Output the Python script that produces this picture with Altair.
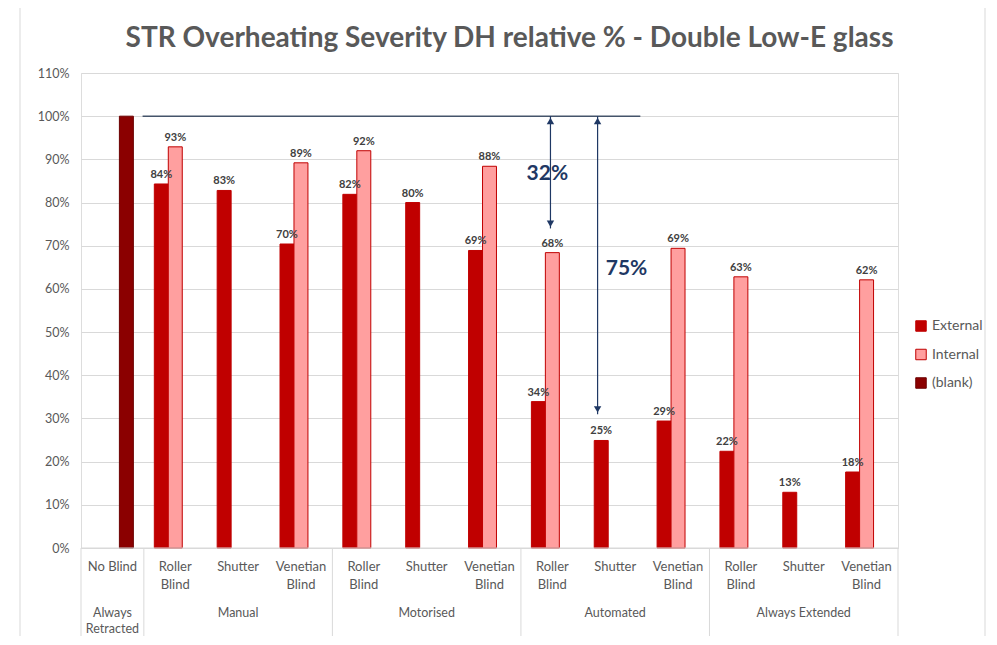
import altair as alt
import pandas as pd

FONT = "Lato"
GREY = "#595959"

slot_ids = [str(i) for i in range(13)]
sub_labels = ["No Blind", "Roller\nBlind", "Shutter", "Venetian\nBlind",
              "Roller\nBlind", "Shutter", "Venetian\nBlind",
              "Roller\nBlind", "Shutter", "Venetian\nBlind",
              "Roller\nBlind", "Shutter", "Venetian\nBlind"]
groups = ["Always\nRetracted", "Manual", "Motorised", "Automated", "Always Extended"]
group_start = [0, 1, 4, 7, 10]
group_end = [1, 4, 7, 10, 13]
series = ["External", "Internal", "(blank)"]

external = [None, 84.3, 82.8, 70.4, 81.9, 80.0, 68.9, 33.9, 24.9, 29.4, 22.4, 12.9, 17.6]
internal = [None, 92.9, None, 89.2, 92.0, None, 88.4, 68.4, None, 69.4, 62.8, None, 62.1]
blank = [100.0] + [None] * 12

# annotations (slot units on x, % on y)
hline_x = [0.98, 8.9]
hline_y = 100
arrow_x = [7.47, 8.22]
arrow_top = [100, 100]
arrow_bot = [74, 31]
note_text = ["32%", "75%"]
note_x = [7.42, 8.68]
note_y = [86.5, 64.5]

rows = []
for i, s in enumerate(slot_ids):
    for name, arr in zip(series, [external, internal, blank]):
        if arr[i] is not None:
            rows.append({"slot": s, "series": name, "value": arr[i],
                         "label": f"{round(arr[i])}%"})
bars_df = pd.DataFrame(rows)

W, H = 817, 475

xband = alt.X("slot:N", scale=alt.Scale(domain=slot_ids, paddingInner=0, paddingOuter=0), axis=None)
xoff = alt.XOffset("series:N", scale=alt.Scale(domain=series, paddingInner=0, paddingOuter=0.75))
yq = alt.Y("value:Q", scale=alt.Scale(domain=[0, 110], nice=False),
           axis=alt.Axis(values=list(range(0, 111, 10)), labelExpr="datum.value + '%'",
                         title=None, domain=False, ticks=False, grid=True, gridColor="#D9D9D9",
                         labelFont=FONT, labelFontSize=12.5, labelColor=GREY, labelPadding=12))

leg = alt.Legend(title=None, orient="none", legendX=833, legendY=246, symbolType="square",
                 symbolSize=110, labelFontSize=14, labelFont=FONT, labelColor=GREY,
                 rowPadding=12.5, symbolStrokeWidth=1)

frame = alt.Chart(pd.DataFrame({"k": [0]})).mark_rect(filled=False, stroke="#D9D9D9", strokeWidth=1).encode(
    x=alt.value(-61), x2=alt.value(W + 87), y=alt.value(-66), y2=alt.value(H + 100))

bars = alt.Chart(bars_df).mark_bar(strokeWidth=1).encode(
    x=xband, xOffset=xoff, y=yq,
    color=alt.Color("series:N", scale=alt.Scale(domain=series, range=["#C00000", "#FF9F9F", "#8B0000"]), legend=leg),
    stroke=alt.Stroke("series:N", scale=alt.Scale(domain=series, range=["#C00000", "#C00000", "#6B0000"]), legend=leg),
)

labels = alt.Chart(bars_df).transform_filter("datum.series != '(blank)'").mark_text(
    dy=-9, font=FONT, fontSize=11, fontWeight="bold", color="#404040"
).encode(x=xband, xOffset=xoff, y=alt.Y("value:Q"), text="label:N")

xq = lambda f: alt.X(f, scale=alt.Scale(domain=[0, 13], nice=False, zero=False), axis=None)

sub_df = pd.DataFrame({"x": [i + 0.5 for i in range(13)], "t": sub_labels})
sub_text = alt.Chart(sub_df).mark_text(baseline="top", lineBreak="\n", lineHeight=18, font=FONT,
                                       fontSize=13, color=GREY).encode(
    x=xq("x:Q"), y=alt.value(488), text="t:N")

grp_df = pd.DataFrame({"x": [(a + b) / 2 for a, b in zip(group_start, group_end)], "t": groups})
grp_text = alt.Chart(grp_df).mark_text(baseline="top", lineBreak="\n", lineHeight=16, font=FONT,
                                       fontSize=12.5, color=GREY).encode(
    x=xq("x:Q"), y=alt.value(534), text="t:N")

div_df = pd.DataFrame({"x": group_start + [13]})
dividers = alt.Chart(div_df).mark_rule(color="#D9D9D9", strokeWidth=1).encode(
    x=xq("x:Q"), y=alt.value(H), y2=alt.value(H + 100))

base_df = pd.DataFrame({"x": [0], "x2": [13]})
baseline = alt.Chart(base_df).mark_rule(color="#D9D9D9", strokeWidth=1).encode(
    x=xq("x:Q"), x2="x2:Q", y=alt.value(H))

hl_df = pd.DataFrame({"x": [hline_x[0]], "x2": [hline_x[1]], "y": [hline_y]})
hline = alt.Chart(hl_df).mark_rule(color="#44546A", strokeWidth=1.5).encode(
    x=xq("x:Q"), x2="x2:Q", y=alt.Y("y:Q"))

ar_df = pd.DataFrame({"x": arrow_x, "top": arrow_top, "bot": arrow_bot})
arrows = alt.Chart(ar_df).mark_rule(color="#1F3864", strokeWidth=1.2).encode(
    x=xq("x:Q"), y=alt.Y("top:Q"), y2="bot:Q")
heads_up = alt.Chart(ar_df).transform_calculate(yy="datum.top - 1.1").mark_point(
    shape="triangle-up", filled=True, color="#1F3864", size=55, opacity=1).encode(
    x=xq("x:Q"), y=alt.Y("yy:Q"))
heads_dn = alt.Chart(ar_df).transform_calculate(yy="datum.bot + 1.1").mark_point(
    shape="triangle-down", filled=True, color="#1F3864", size=55, opacity=1).encode(
    x=xq("x:Q"), y=alt.Y("yy:Q"))

nt_df = pd.DataFrame({"x": note_x, "y": note_y, "t": note_text})
notes = alt.Chart(nt_df).mark_text(font=FONT, fontSize=21, fontWeight="bold", color="#1F3864").encode(
    x=xq("x:Q"), y=alt.Y("y:Q"), text="t:N")

annot = alt.layer(baseline, dividers, sub_text, grp_text, hline, arrows, heads_up, heads_dn, notes)

chart = alt.layer(frame, bars, labels, annot).resolve_scale(x="independent").properties(
    width=W, height=H,
    title=alt.Title("STR Overheating Severity DH relative % - Double Low-E glass",
                    font=FONT, fontSize=28, fontWeight="bold", color=GREY,
                    anchor="middle", dx=20, offset=-46),
    autosize=alt.AutoSizeParams(type="none"),
    padding={"left": 73, "top": 65, "right": 90, "bottom": 88},
).configure_view(stroke=None).configure(background="white")

chart.save("out.html", embed_options={"renderer": "svg", "actions": False})
